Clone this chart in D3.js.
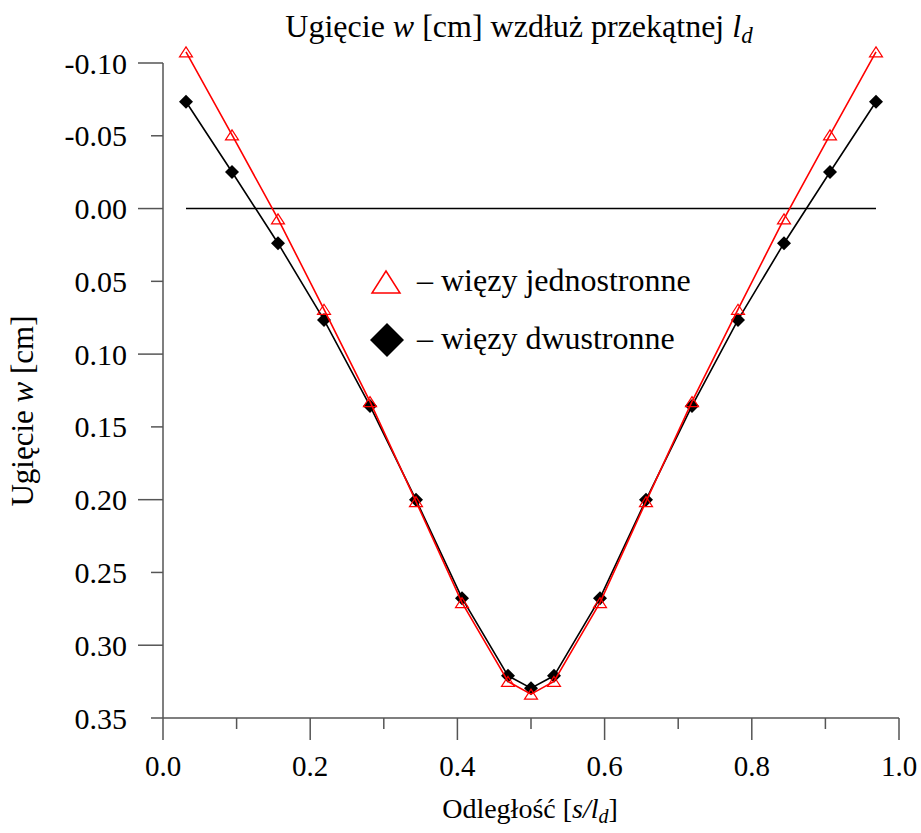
<!DOCTYPE html>
<html>
<head>
<meta charset="utf-8">
<script src="https://cdn.jsdelivr.net/npm/d3@7"></script>
<style>
  body { margin: 0; background: #fff; }
</style>
</head>
<body>
<svg id="chart" width="921" height="833"></svg>
<script>
// distance along the diagonal, s/l_d
const positions = [0.03125, 0.09375, 0.15625, 0.21875, 0.28125, 0.34375, 0.40625, 0.46875, 0.5,
                   0.53125, 0.59375, 0.65625, 0.71875, 0.78125, 0.84375, 0.90625, 0.96875];
// deflection w [cm], unilateral constraints (red triangles)
const oneSided = [-0.1076, -0.0506, 0.0071, 0.0692, 0.1326, 0.2013, 0.2707, 0.3249, 0.3336,
                  0.3249, 0.2707, 0.2013, 0.1326, 0.0692, 0.0071, -0.0506, -0.1076];
// deflection w [cm], bilateral constraints (black diamonds)
const twoSided = [-0.0734, -0.0251, 0.0238, 0.0765, 0.1356, 0.2001, 0.2677, 0.3210, 0.3295,
                  0.3210, 0.2677, 0.2001, 0.1356, 0.0765, 0.0238, -0.0251, -0.0734];
const legendLabels = ["\u2013 więzy jednostronne", "\u2013 więzy dwustronne"];
const xTicks = [0, 0.1, 0.2, 0.3, 0.4, 0.5, 0.6, 0.7, 0.8, 0.9, 1.0];
const yTicks = [-0.10, -0.05, 0.00, 0.05, 0.10, 0.15, 0.20, 0.25, 0.30, 0.35];

const FONT = "'Liberation Serif'";
const svg = d3.select("#chart");
const axisColor = "#555";

const x = d3.scaleLinear().domain([0, 1]).range([163, 899]);
const y = d3.scaleLinear().domain([-0.10, 0.35]).range([63, 718]);

// triangle centred on its bounding box
function triangle(w, h) {
  return `M0,${-h/2}L${w/2},${h/2}L${-w/2},${h/2}Z`;
}
function diamond(s) {
  return `M0,${-s/2}L${s/2},0L0,${s/2}L${-s/2},0Z`;
}

// y axis
const isMajorY = v => Math.abs(Math.round(v * 100) % 10) === 0;
const gy = svg.append("g");
gy.append("line")
  .attr("x1", x(0)).attr("x2", x(0))
  .attr("y1", y(-0.10)).attr("y2", y(0.35))
  .attr("stroke", axisColor).attr("stroke-width", 1.5);
gy.selectAll(".yt").data(yTicks).join("line")
  .attr("x1", d => x(0) - (isMajorY(d) ? 25 : 12)).attr("x2", x(0))
  .attr("y1", d => y(d)).attr("y2", d => y(d))
  .attr("stroke", axisColor).attr("stroke-width", 1.5);
gy.selectAll(".yl").data(yTicks).join("text")
  .attr("x", x(0) - 36).attr("y", d => y(d)).attr("dy", "0.35em")
  .attr("text-anchor", "end").attr("font-size", 30)
  .style("font-family", FONT)
  .text(d => d3.format(".2f")(d).replace("\u2212", "-"));

// x axis
const isMajorX = v => Math.round(v * 10) % 2 === 0;
const gx = svg.append("g");
gx.append("line")
  .attr("x1", x(0)).attr("x2", x(1))
  .attr("y1", y(0.35)).attr("y2", y(0.35))
  .attr("stroke", axisColor).attr("stroke-width", 1.5);
gx.selectAll(".xt").data(xTicks).join("line")
  .attr("x1", d => x(d)).attr("x2", d => x(d))
  .attr("y1", y(0.35)).attr("y2", d => y(0.35) + (isMajorX(d) ? 22 : 11))
  .attr("stroke", axisColor).attr("stroke-width", 1.5);
gx.selectAll(".xl").data(xTicks.filter(isMajorX)).join("text")
  .attr("x", d => x(d)).attr("y", 776)
  .attr("text-anchor", "middle").attr("font-size", 29)
  .style("font-family", FONT)
  .text(d => d3.format(".1f")(d));

// zero line
svg.append("line")
  .attr("x1", x(d3.min(positions))).attr("x2", x(d3.max(positions)))
  .attr("y1", y(0)).attr("y2", y(0))
  .attr("stroke", "#000").attr("stroke-width", 1.5);

const line = d3.line().x(d => x(d[0])).y(d => y(d[1]));
const blackPts = positions.map((p, i) => [p, twoSided[i]]);
const redPts = positions.map((p, i) => [p, oneSided[i]]);

// bilateral series
svg.append("path").datum(blackPts)
  .attr("d", line).attr("fill", "none")
  .attr("stroke", "#000").attr("stroke-width", 1.6);
svg.selectAll(".dia").data(blackPts).join("path")
  .attr("transform", d => `translate(${x(d[0])},${y(d[1])})`)
  .attr("d", diamond(14)).attr("fill", "#000");

// unilateral series
svg.append("path").datum(redPts)
  .attr("d", line).attr("fill", "none")
  .attr("stroke", "#f00").attr("stroke-width", 1.6);
svg.selectAll(".tri").data(redPts).join("path")
  .attr("transform", d => `translate(${x(d[0])},${y(d[1])})`)
  .attr("d", triangle(13, 10)).attr("fill", "none")
  .attr("stroke", "#f00").attr("stroke-width", 1.2);

// legend
const legend = svg.append("g");
legend.append("path").attr("transform", "translate(386,282)")
  .attr("d", triangle(28, 22)).attr("fill", "none")
  .attr("stroke", "#f00").attr("stroke-width", 1.5);
legend.append("path").attr("transform", "translate(387,340)")
  .attr("d", diamond(34)).attr("fill", "#000");
legend.selectAll("text").data(legendLabels).join("text")
  .attr("x", 417).attr("y", (d, i) => 291 + i * 58)
  .attr("font-size", 32)
  .style("font-family", FONT)
  .text(d => d);

// title
const title = svg.append("text")
  .attr("x", 519).attr("y", 37).attr("text-anchor", "middle").attr("font-size", 32)
  .style("font-family", FONT);
title.append("tspan").text("Ugięcie ");
title.append("tspan").attr("font-style", "italic").text("w");
title.append("tspan").text(" [cm] wzdłuż przekątnej ");
title.append("tspan").attr("font-style", "italic").text("l");
title.append("tspan").attr("font-style", "italic").attr("font-size", 23).attr("dy", 6).text("d");

// x label
const xl = svg.append("text")
  .attr("x", 530).attr("y", 818).attr("text-anchor", "middle").attr("font-size", 28)
  .style("font-family", FONT);
xl.append("tspan").text("Odległość [");
xl.append("tspan").attr("font-style", "italic").text("s/l");
xl.append("tspan").attr("font-style", "italic").attr("font-size", 20).attr("dy", 5).text("d");
xl.append("tspan").attr("dy", -5).text("]");

// y label
const yl = svg.append("text")
  .attr("transform", "translate(33,411) rotate(-90)")
  .attr("text-anchor", "middle").attr("font-size", 31)
  .style("font-family", FONT);
yl.append("tspan").text("Ugięcie ");
yl.append("tspan").attr("font-style", "italic").text("w");
yl.append("tspan").text(" [cm]");
</script>
</body>
</html>
